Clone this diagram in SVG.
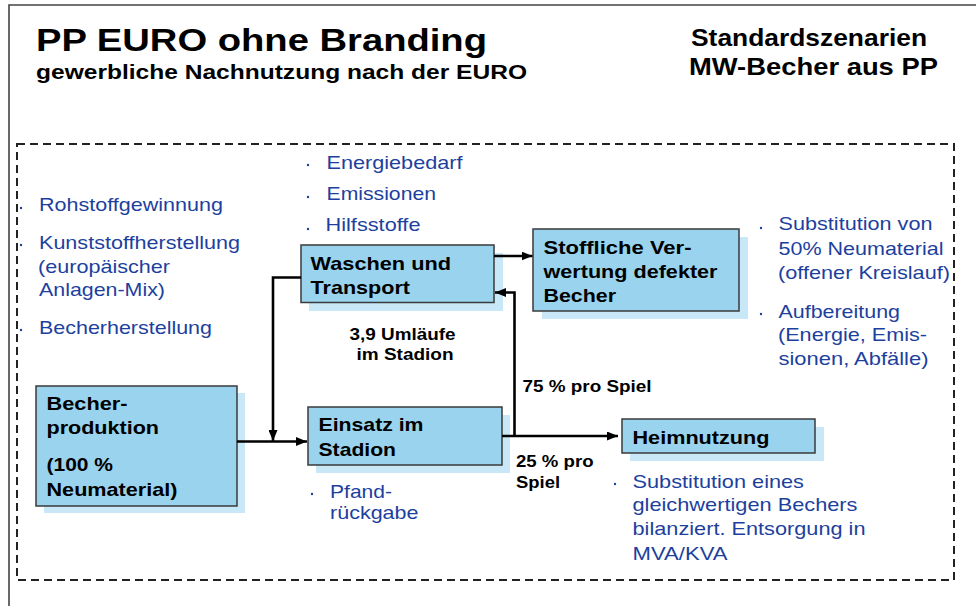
<svg xmlns="http://www.w3.org/2000/svg" width="976" height="606" viewBox="0 0 976 606">
<style>
text{font-family:"Liberation Sans",Arial,sans-serif}
.h{font-weight:bold;fill:#000}
.bx{font-weight:bold;font-size:18.5px;fill:#000}
.lb{font-weight:bold;font-size:16px;fill:#000}
.bl{font-size:19px;fill:#1d3f9e}
.box{fill:#99d3ed;stroke:#3a3a3a;stroke-width:1.5}
.sh{fill:#c9e8f7}
.dot{fill:#1d3f9e}
.con{fill:none;stroke:#000;stroke-width:2.6}
</style>
<defs>
<marker id="ah" markerWidth="11" markerHeight="9" refX="11" refY="4.5" orient="auto" markerUnits="userSpaceOnUse"><path d="M0,0 L11,4.5 L0,9 z" fill="#000"/></marker>
</defs>
<rect width="976" height="606" fill="#fff"/>
<g id="frame">
<path d="M9,606 V5 H976" fill="none" stroke="#444" stroke-width="1.6"/>
<rect x="17" y="144" width="937" height="436" fill="none" stroke="#222" stroke-width="2" stroke-dasharray="8,5"/>
</g>
<g id="header">
<text class="h" x="36" y="51" font-size="31" textLength="451" lengthAdjust="spacingAndGlyphs">PP EURO ohne Branding</text>
<text class="h" x="36" y="79" font-size="19.5" textLength="491" lengthAdjust="spacingAndGlyphs">gewerbliche Nachnutzung nach der EURO</text>
<text class="h" x="691" y="46" font-size="24" textLength="236" lengthAdjust="spacingAndGlyphs">Standardszenarien</text>
<text class="h" x="689" y="75" font-size="24" textLength="249" lengthAdjust="spacingAndGlyphs">MW-Becher aus PP</text>
</g>
<g id="inputs-left">
<circle class="dot" cx="21" cy="208" r="1.2"/>
<circle class="dot" cx="21" cy="245" r="1.2"/>
<circle class="dot" cx="21" cy="330" r="1.2"/>
<text class="bl" x="39" y="211" textLength="184" lengthAdjust="spacingAndGlyphs">Rohstoffgewinnung</text>
<text class="bl" x="39" y="248.5" textLength="201" lengthAdjust="spacingAndGlyphs">Kunststoffherstellung</text>
<text class="bl" x="38" y="272.5" textLength="132" lengthAdjust="spacingAndGlyphs">(europäischer</text>
<text class="bl" x="39" y="296" textLength="126" lengthAdjust="spacingAndGlyphs">Anlagen-Mix)</text>
<text class="bl" x="39" y="333.5" textLength="173" lengthAdjust="spacingAndGlyphs">Becherherstellung</text>
</g>
<g id="inputs-top">
<circle class="dot" cx="308" cy="165" r="1.2"/>
<circle class="dot" cx="308" cy="197" r="1.2"/>
<circle class="dot" cx="308" cy="229" r="1.2"/>
<text class="bl" x="326.5" y="168.5" textLength="136" lengthAdjust="spacingAndGlyphs">Energiebedarf</text>
<text class="bl" x="326.5" y="200" textLength="109.5" lengthAdjust="spacingAndGlyphs">Emissionen</text>
<text class="bl" x="325.5" y="231" textLength="95" lengthAdjust="spacingAndGlyphs">Hilfsstoffe</text>
</g>
<g id="node-waschen">
<rect class="sh" x="309" y="253" width="194" height="58"/>
<rect class="box" x="301" y="245" width="193" height="57.5"/>
<text class="bx" x="310.5" y="269.5" textLength="140.5" lengthAdjust="spacingAndGlyphs">Waschen und</text>
<text class="bx" x="310.5" y="293.5" textLength="99.5" lengthAdjust="spacingAndGlyphs">Transport</text>
</g>
<g id="node-stoffliche">
<rect class="sh" x="542" y="237" width="206" height="82"/>
<rect class="box" x="533" y="229" width="206" height="82"/>
<text class="bx" x="543.5" y="253.5" textLength="148" lengthAdjust="spacingAndGlyphs">Stoffliche Ver-</text>
<text class="bx" x="543.5" y="277.5" textLength="174" lengthAdjust="spacingAndGlyphs">wertung defekter</text>
<text class="bx" x="543.5" y="301.5" textLength="72.5" lengthAdjust="spacingAndGlyphs">Becher</text>
</g>
<g id="outputs-right">
<circle class="dot" cx="761" cy="228" r="1.2"/>
<circle class="dot" cx="761" cy="314" r="1.2"/>
<text class="bl" x="778.5" y="230" textLength="154" lengthAdjust="spacingAndGlyphs">Substitution von</text>
<text class="bl" x="778.5" y="255" textLength="165" lengthAdjust="spacingAndGlyphs">50% Neumaterial</text>
<text class="bl" x="778" y="279" textLength="172" lengthAdjust="spacingAndGlyphs">(offener Kreislauf)</text>
<text class="bl" x="778.5" y="317.5" textLength="121.5" lengthAdjust="spacingAndGlyphs">Aufbereitung</text>
<text class="bl" x="778" y="341" textLength="149" lengthAdjust="spacingAndGlyphs">(Energie, Emis-</text>
<text class="bl" x="778.5" y="365" textLength="150" lengthAdjust="spacingAndGlyphs">sionen, Abfälle)</text>
</g>
<g id="node-becherproduktion">
<rect class="sh" x="44" y="393" width="201" height="120"/>
<rect class="box" x="36" y="386" width="201" height="120"/>
<text class="bx" x="46.5" y="410" textLength="81" lengthAdjust="spacingAndGlyphs">Becher-</text>
<text class="bx" x="46.5" y="434" textLength="112.5" lengthAdjust="spacingAndGlyphs">produktion</text>
<text class="bx" x="46.5" y="471" textLength="66.5" lengthAdjust="spacingAndGlyphs">(100 %</text>
<text class="bx" x="46.5" y="495.5" textLength="131" lengthAdjust="spacingAndGlyphs">Neumaterial)</text>
</g>
<g id="node-einsatz">
<rect class="sh" x="316" y="415" width="194" height="58"/>
<rect class="box" x="308" y="407" width="194" height="58"/>
<text class="bx" x="318.5" y="431" textLength="105" lengthAdjust="spacingAndGlyphs">Einsatz im</text>
<text class="bx" x="318.5" y="455.5" textLength="77.5" lengthAdjust="spacingAndGlyphs">Stadion</text>
</g>
<g id="einsatz-note">
<circle class="dot" cx="312" cy="494" r="1.2"/>
<text class="bl" x="330" y="497.5" textLength="62" lengthAdjust="spacingAndGlyphs">Pfand-</text>
<text class="bl" x="330" y="519" textLength="88.5" lengthAdjust="spacingAndGlyphs">rückgabe</text>
</g>
<g id="node-heimnutzung">
<rect class="sh" x="630" y="427" width="194" height="34"/>
<rect class="box" x="622" y="419" width="193" height="34"/>
<text class="bx" x="632.5" y="443.5" textLength="137" lengthAdjust="spacingAndGlyphs">Heimnutzung</text>
</g>
<g id="heim-note">
<circle class="dot" cx="615" cy="484" r="1.2"/>
<text class="bl" x="632.5" y="487.5" textLength="171.5" lengthAdjust="spacingAndGlyphs">Substitution eines</text>
<text class="bl" x="632.5" y="511" textLength="225" lengthAdjust="spacingAndGlyphs">gleichwertigen Bechers</text>
<text class="bl" x="632.5" y="535" textLength="233" lengthAdjust="spacingAndGlyphs">bilanziert. Entsorgung in</text>
<text class="bl" x="632.5" y="559.5" textLength="95" lengthAdjust="spacingAndGlyphs">MVA/KVA</text>
</g>
<g id="connectors">
<path class="con" d="M237,441.5 H307" marker-end="url(#ah)"/>
<path class="con" d="M301,277.5 H273 V441" marker-end="url(#ah)"/>
<path class="con" d="M494,256 H532.5" marker-end="url(#ah)"/>
<path class="con" d="M502,436 H618" marker-end="url(#ah)"/>
<path class="con" d="M514.5,436 V292.5 H495" marker-end="url(#ah)"/>
</g>
<g id="connector-labels">
<text class="lb" x="349.5" y="339.5" textLength="106" lengthAdjust="spacingAndGlyphs">3,9 Umläufe</text>
<text class="lb" x="356.5" y="359.5" textLength="97" lengthAdjust="spacingAndGlyphs">im Stadion</text>
<text class="lb" x="522.5" y="391.5" textLength="129" lengthAdjust="spacingAndGlyphs">75 % pro Spiel</text>
<text class="lb" x="516" y="467" textLength="77.5" lengthAdjust="spacingAndGlyphs">25 % pro</text>
<text class="lb" x="516" y="487.5" textLength="44" lengthAdjust="spacingAndGlyphs">Spiel</text>
</g>
</svg>
